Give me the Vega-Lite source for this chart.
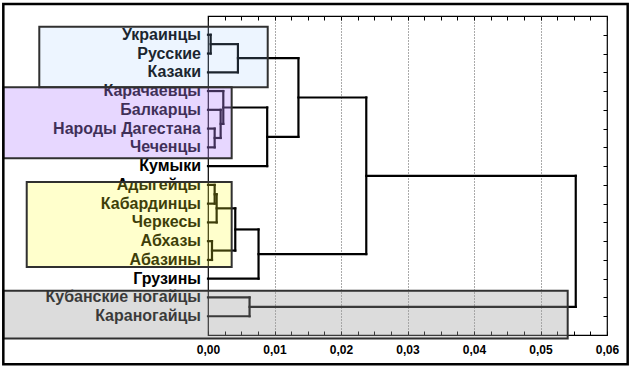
{
  "$schema": "https://vega.github.io/schema/vega-lite/v6.json",
  "width": 399,
  "height": 319,
  "autosize": {"type": "none"},
  "padding": {"left": 208, "top": 16, "right": 25, "bottom": 33},
  "background": "white",
  "config": {"view": {"stroke": "black", "strokeWidth": 1.2}},
  "datasets": {
    "segments": [
      {"x1": 0, "x2": 0.0004, "y1": 1, "y2": 1},
      {"x1": 0, "x2": 0.0004, "y1": 2, "y2": 2},
      {"x1": 0.0004, "x2": 0.0004, "y1": 1, "y2": 2},
      {"x1": 0.0004, "x2": 0.0045, "y1": 1.5, "y2": 1.5},
      {"x1": 0, "x2": 0.0045, "y1": 3, "y2": 3},
      {"x1": 0.0045, "x2": 0.0045, "y1": 1.5, "y2": 3},
      {"x1": 0, "x2": 0.001, "y1": 6, "y2": 6},
      {"x1": 0, "x2": 0.001, "y1": 7, "y2": 7},
      {"x1": 0.001, "x2": 0.001, "y1": 6, "y2": 7},
      {"x1": 0, "x2": 0.0019, "y1": 5, "y2": 5},
      {"x1": 0.001, "x2": 0.0019, "y1": 6.5, "y2": 6.5},
      {"x1": 0.0019, "x2": 0.0019, "y1": 5, "y2": 6.5},
      {"x1": 0, "x2": 0.0023, "y1": 4, "y2": 4},
      {"x1": 0.0019, "x2": 0.0023, "y1": 5.75, "y2": 5.75},
      {"x1": 0.0023, "x2": 0.0023, "y1": 4, "y2": 5.75},
      {"x1": 0.0023, "x2": 0.0089, "y1": 4.875, "y2": 4.875},
      {"x1": 0, "x2": 0.0089, "y1": 8, "y2": 8},
      {"x1": 0.0089, "x2": 0.0089, "y1": 4.875, "y2": 8},
      {"x1": 0.0045, "x2": 0.0136, "y1": 2.25, "y2": 2.25},
      {"x1": 0.0089, "x2": 0.0136, "y1": 6.4375, "y2": 6.4375},
      {"x1": 0.0136, "x2": 0.0136, "y1": 2.25, "y2": 6.4375},
      {"x1": 0, "x2": 0.001, "y1": 9, "y2": 9},
      {"x1": 0, "x2": 0.001, "y1": 10, "y2": 10},
      {"x1": 0.001, "x2": 0.001, "y1": 9, "y2": 10},
      {"x1": 0.001, "x2": 0.0013, "y1": 9.5, "y2": 9.5},
      {"x1": 0, "x2": 0.0013, "y1": 11, "y2": 11},
      {"x1": 0.0013, "x2": 0.0013, "y1": 9.5, "y2": 11},
      {"x1": 0, "x2": 0.0006, "y1": 12, "y2": 12},
      {"x1": 0, "x2": 0.0006, "y1": 13, "y2": 13},
      {"x1": 0.0006, "x2": 0.0006, "y1": 12, "y2": 13},
      {"x1": 0.0013, "x2": 0.0041, "y1": 10.25, "y2": 10.25},
      {"x1": 0.0006, "x2": 0.0041, "y1": 12.5, "y2": 12.5},
      {"x1": 0.0041, "x2": 0.0041, "y1": 10.25, "y2": 12.5},
      {"x1": 0.0041, "x2": 0.0076, "y1": 11.375, "y2": 11.375},
      {"x1": 0, "x2": 0.0076, "y1": 14, "y2": 14},
      {"x1": 0.0076, "x2": 0.0076, "y1": 11.375, "y2": 14},
      {"x1": 0.0136, "x2": 0.0238, "y1": 4.34375, "y2": 4.34375},
      {"x1": 0.0076, "x2": 0.0238, "y1": 12.6875, "y2": 12.6875},
      {"x1": 0.0238, "x2": 0.0238, "y1": 4.34375, "y2": 12.6875},
      {"x1": 0, "x2": 0.00625, "y1": 15, "y2": 15},
      {"x1": 0, "x2": 0.00625, "y1": 16, "y2": 16},
      {"x1": 0.00625, "x2": 0.00625, "y1": 15, "y2": 16},
      {"x1": 0.0238, "x2": 0.0553, "y1": 8.515625, "y2": 8.515625},
      {"x1": 0.00625, "x2": 0.0553, "y1": 15.5, "y2": 15.5},
      {"x1": 0.0553, "x2": 0.0553, "y1": 8.515625, "y2": 15.5}
    ],
    "leaves": [
      {"name": "Украинцы", "pos": 1},
      {"name": "Русские", "pos": 2},
      {"name": "Казаки", "pos": 3},
      {"name": "Карачаевцы", "pos": 4},
      {"name": "Балкарцы", "pos": 5},
      {"name": "Народы Дагестана", "pos": 6},
      {"name": "Чеченцы", "pos": 7},
      {"name": "Кумыки", "pos": 8},
      {"name": "Адыгейцы", "pos": 9},
      {"name": "Кабардинцы", "pos": 10},
      {"name": "Черкесы", "pos": 11},
      {"name": "Абхазы", "pos": 12},
      {"name": "Абазины", "pos": 13},
      {"name": "Грузины", "pos": 14},
      {"name": "Кубанские ногайцы", "pos": 15},
      {"name": "Караногайцы", "pos": 16}
    ],
    "boxes": [
      {"box": "blue", "x1": -0.02537, "x2": 0.00898, "y1": 0.57, "y2": 3.8},
      {"box": "purple", "x1": -0.03078, "x2": 0.00356, "y1": 3.8, "y2": 7.58},
      {"box": "yellow", "x1": -0.02726, "x2": 0.00356, "y1": 8.85, "y2": 13.38},
      {"box": "grey", "x1": -0.03078, "x2": 0.05409, "y1": 14.64, "y2": 17.18},
      {"box": "frame", "x1": -0.03078, "x2": 0.06311, "y1": -0.64, "y2": 18.56}
    ]
  },
  "resolve": {"axis": {"x": "independent", "y": "independent"}},
  "layer": [
    {
      "data": {"name": "segments"},
      "mark": {"type": "rule", "color": "black", "strokeWidth": 2.2, "strokeCap": "square"},
      "encoding": {
        "x": {"field": "x1", "type": "quantitative",
          "scale": {"domain": [0, 0.06], "nice": false, "zero": false},
          "axis": {"orient": "bottom", "title": null, "domain": false,
            "values": [0, 0.0025, 0.005, 0.0075, 0.01, 0.0125, 0.015, 0.0175, 0.02, 0.0225, 0.025, 0.0275, 0.03, 0.0325, 0.035, 0.0375, 0.04, 0.0425, 0.045, 0.0475, 0.05, 0.0525, 0.055, 0.0575, 0.06],
            "tickSize": -4, "tickColor": "black", "tickWidth": 1,
            "labelExpr": "abs(datum.value*100 - round(datum.value*100)) < 0.001 ? replace(format(datum.value, '.2f'), '.', ',') : ''",
            "labelFont": "Liberation Sans", "labelFontWeight": "bold", "labelFontSize": 12, "labelColor": "black",
            "labelPadding": 13, "labelFlush": false, "labelOverlap": false,
            "grid": true, "gridColor": "#555555", "gridDash": [1, 2], "gridWidth": 1,
            "gridOpacity": {"condition": {"test": "datum.value > 0.005 && datum.value < 0.055 && abs(datum.value*100 - round(datum.value*100)) < 0.001", "value": 1}, "value": 0}
          }
        },
        "x2": {"field": "x2"},
        "y": {"field": "y1", "type": "quantitative",
          "scale": {"domain": [0, 17], "nice": false, "zero": false, "reverse": true},
          "axis": {"orient": "right", "title": null, "domain": false, "labels": false, "grid": false,
            "values": [1, 2, 3, 4, 5, 6, 7, 8, 9, 10, 11, 12, 13, 14, 15, 16],
            "tickSize": -4, "tickColor": "black", "tickWidth": 1}
        },
        "y2": {"field": "y2"}
      }
    },
    {
      "data": {"name": "leaves"},
      "mark": {"type": "text", "align": "right", "baseline": "middle", "dx": -7,
        "font": "Liberation Sans", "fontWeight": "bold", "fontSize": 16, "color": "black"},
      "encoding": {
        "x": {"datum": 0, "type": "quantitative",
          "scale": {"domain": [0, 0.06], "nice": false, "zero": false},
          "axis": {"orient": "top", "title": null, "domain": false, "labels": false, "grid": false,
            "values": [0, 0.0025, 0.005, 0.0075, 0.01, 0.0125, 0.015, 0.0175, 0.02, 0.0225, 0.025, 0.0275, 0.03, 0.0325, 0.035, 0.0375, 0.04, 0.0425, 0.045, 0.0475, 0.05, 0.0525, 0.055, 0.0575, 0.06],
            "tickSize": -4, "tickColor": "black", "tickWidth": 1}
        },
        "y": {"field": "pos", "type": "quantitative",
          "scale": {"domain": [0, 17], "nice": false, "zero": false, "reverse": true}, "axis": null},
        "text": {"field": "name"}
      }
    },
    {
      "data": {"name": "boxes"},
      "transform": [{"filter": "datum.box == 'blue'"}],
      "mark": {"type": "rect", "fill": "#9bc8ff", "fillOpacity": 0.18, "stroke": "#303030", "strokeWidth": 2},
      "encoding": {
        "x": {"field": "x1", "type": "quantitative", "scale": {"domain": [0, 0.06], "nice": false, "zero": false}, "axis": null},
        "x2": {"field": "x2"},
        "y": {"field": "y1", "type": "quantitative", "scale": {"domain": [0, 17], "nice": false, "zero": false, "reverse": true}, "axis": null},
        "y2": {"field": "y2"}
      }
    },
    {
      "data": {"name": "boxes"},
      "transform": [{"filter": "datum.box == 'purple'"}],
      "mark": {"type": "rect", "fill": "#b98aff", "fillOpacity": 0.34, "stroke": "#303030", "strokeWidth": 2},
      "encoding": {
        "x": {"field": "x1", "type": "quantitative", "scale": {"domain": [0, 0.06], "nice": false, "zero": false}, "axis": null},
        "x2": {"field": "x2"},
        "y": {"field": "y1", "type": "quantitative", "scale": {"domain": [0, 17], "nice": false, "zero": false, "reverse": true}, "axis": null},
        "y2": {"field": "y2"}
      }
    },
    {
      "data": {"name": "boxes"},
      "transform": [{"filter": "datum.box == 'yellow'"}],
      "mark": {"type": "rect", "fill": "#ffff28", "fillOpacity": 0.24, "stroke": "#303030", "strokeWidth": 2},
      "encoding": {
        "x": {"field": "x1", "type": "quantitative", "scale": {"domain": [0, 0.06], "nice": false, "zero": false}, "axis": null},
        "x2": {"field": "x2"},
        "y": {"field": "y1", "type": "quantitative", "scale": {"domain": [0, 17], "nice": false, "zero": false, "reverse": true}, "axis": null},
        "y2": {"field": "y2"}
      }
    },
    {
      "data": {"name": "boxes"},
      "transform": [{"filter": "datum.box == 'grey'"}],
      "mark": {"type": "rect", "fill": "#9f9f9f", "fillOpacity": 0.365, "stroke": "#303030", "strokeWidth": 2},
      "encoding": {
        "x": {"field": "x1", "type": "quantitative", "scale": {"domain": [0, 0.06], "nice": false, "zero": false}, "axis": null},
        "x2": {"field": "x2"},
        "y": {"field": "y1", "type": "quantitative", "scale": {"domain": [0, 17], "nice": false, "zero": false, "reverse": true}, "axis": null},
        "y2": {"field": "y2"}
      }
    },
    {
      "data": {"name": "boxes"},
      "transform": [{"filter": "datum.box == 'frame'"}],
      "mark": {"type": "rect", "filled": false, "stroke": "black", "strokeWidth": 2.5},
      "encoding": {
        "x": {"field": "x1", "type": "quantitative", "scale": {"domain": [0, 0.06], "nice": false, "zero": false}, "axis": null},
        "x2": {"field": "x2"},
        "y": {"field": "y1", "type": "quantitative", "scale": {"domain": [0, 17], "nice": false, "zero": false, "reverse": true}, "axis": null},
        "y2": {"field": "y2"}
      }
    }
  ]
}
